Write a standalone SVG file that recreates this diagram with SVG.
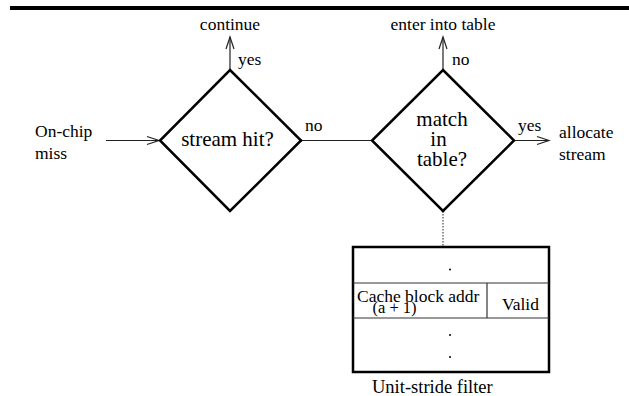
<svg xmlns="http://www.w3.org/2000/svg" width="629" height="396" viewBox="0 0 629 396">
<style>
text{font-family:"Liberation Serif","Times New Roman",serif;fill:#000}
.t{font-size:17.5px}
.b{font-size:21px}
.m{font-size:17.5px}
.dia{fill:none;stroke:#000;stroke-width:2.5;stroke-linejoin:miter}
.ln{fill:none;stroke:#222;stroke-width:1.2}
.ah{fill:none;stroke:#222;stroke-width:1.2}
</style>
<rect width="629" height="396" fill="#fff"/>
<line x1="10" y1="8" x2="629" y2="8" stroke="#000" stroke-width="4"/>
<g id="connectors">
<line class="ln" x1="106" y1="140.5" x2="159" y2="140.5"/>
<polyline class="ah" points="147,136.5 159,140.5 147,144.5"/>
<line class="ln" x1="230" y1="70" x2="230" y2="37"/>
<polyline class="ah" points="226,49 230,37 234,49"/>
<line class="ln" x1="301" y1="140.5" x2="372" y2="140.5"/>
<circle cx="301" cy="140.5" r="1.3" fill="#000"/>
<line class="ln" x1="443" y1="70" x2="443" y2="37"/>
<polyline class="ah" points="439,49 443,37 447,49"/>
<line class="ln" x1="514" y1="140.5" x2="549" y2="140.5"/>
<polyline class="ah" points="537,136.5 549,140.5 537,144.5"/>
<line x1="443" y1="211" x2="443" y2="246" stroke="#222" stroke-width="1" stroke-dasharray="1.5,1.5"/>
<circle cx="443" cy="211" r="1.3" fill="#000"/>
</g>
<g id="input">
<text class="t" x="35" y="137">On-chip</text>
<text class="t" x="35" y="159">miss</text>
</g>
<g id="stream-hit">
<polygon class="dia" points="230,70 301,140.5 230,211 160,140.5"/>
<text class="b" x="227.5" y="146" text-anchor="middle">stream hit?</text>
</g>
<g id="continue">
<text class="t" x="230" y="30" text-anchor="middle">continue</text>
</g>
<g id="labels">
<text class="t" x="238" y="65">yes</text>
<text class="t" x="305" y="131">no</text>
<text class="t" x="452" y="65">no</text>
<text class="t" x="518" y="131">yes</text>
</g>
<g id="match">
<polygon class="dia" points="443,70 514,140.5 443,211 372,140.5"/>
<text class="b" x="442" y="125.5" text-anchor="middle">match</text>
<text class="b" x="438.5" y="145.5" text-anchor="middle">in</text>
<text class="b" x="442" y="165.5" text-anchor="middle">table?</text>
</g>
<g id="enter">
<text class="t" x="443" y="30" text-anchor="middle">enter into table</text>
</g>
<g id="allocate">
<text class="t" x="559" y="138">allocate</text>
<text class="t" x="559" y="160">stream</text>
</g>
<g id="filter">
<rect x="353" y="247" width="196" height="125" fill="none" stroke="#000" stroke-width="2.5"/>
<line x1="353" y1="283" x2="549" y2="283" stroke="#333" stroke-width="1.2"/>
<line x1="353" y1="318" x2="549" y2="318" stroke="#333" stroke-width="1.2"/>
<line x1="487" y1="283" x2="487" y2="318" stroke="#333" stroke-width="1.2"/>
<circle cx="450" cy="269.5" r="1" fill="#000"/>
<circle cx="450" cy="335" r="1" fill="#000"/>
<circle cx="450" cy="357" r="1" fill="#000"/>
<text class="m" x="357" y="301.5">Cache block addr</text>
<text x="372.5" y="312.5" style="font-size:16.5px">(a + 1)</text>
<text class="m" x="502" y="310">Valid</text>
<text x="372" y="393" style="font-size:18.5px">Unit-stride filter</text>
</g>
</svg>
